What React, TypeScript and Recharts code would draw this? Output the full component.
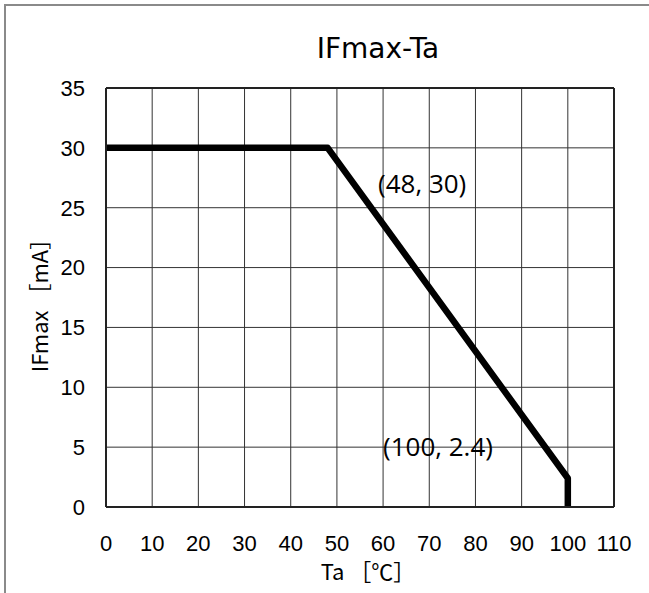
import React from 'react';
import { LineChart, Line, XAxis, YAxis, CartesianGrid, ReferenceLine } from 'recharts';

// derating curve points (Ta in °C, IFmax in mA)
const TA = [0, 48, 100, 100];
const IF_MAX = [30, 30, 2.4, 0];

const X_TICKS = [0, 10, 20, 30, 40, 50, 60, 70, 80, 90, 100, 110];
const Y_TICKS = [0, 5, 10, 15, 20, 25, 30, 35];

const data = TA.map((ta, i) => ({ ta, ifmax: IF_MAX[i] }));

const W = 649;
const H = 593;

const tickStyle = { fill: '#000', fontSize: 22, fontFamily: '"Liberation Sans", Arial, sans-serif' };
const noteFont = '"Open Sans", "Noto Sans", sans-serif';
const cjkFont = '"Noto Sans CJK JP", "Noto Sans", sans-serif';

const App: React.FC = () => {
  return (
    <div style={{ position: 'absolute', left: 0, top: 0, width: W, height: H, overflow: 'hidden', background: '#fff' }}>
      <div
        style={{
          position: 'absolute',
          left: 4,
          top: 4,
          width: 800,
          height: 800,
          borderLeft: '2px solid #8a8a8a',
          borderTop: '2px solid #8a8a8a',
        }}
      />
      <div
        style={{
          position: 'absolute',
          left: 378,
          top: 49,
          transform: 'translate(-50%, -50%)',
          fontFamily: '"DejaVu Sans", sans-serif',
          fontSize: 28,
          lineHeight: 1,
          whiteSpace: 'nowrap',
        }}
      >
        IFmax-Ta
      </div>

      <LineChart width={W} height={H} data={data} margin={{ top: 88, right: 35, left: 46, bottom: 36 }}>
        <CartesianGrid stroke="#333" strokeWidth={1} />
        <XAxis
          dataKey="ta"
          type="number"
          domain={[0, 110]}
          ticks={X_TICKS}
          interval={0}
          height={50}
          tickSize={0}
          tickMargin={28}
          tick={tickStyle}
          axisLine={{ stroke: '#222', strokeWidth: 2 }}
        />
        <YAxis
          type="number"
          domain={[0, 35]}
          ticks={Y_TICKS}
          interval={0}
          width={60}
          tickSize={0}
          tickMargin={21}
          tick={tickStyle}
          axisLine={{ stroke: '#222', strokeWidth: 2 }}
        />
        <ReferenceLine y={35} stroke="#222" strokeWidth={2} />
        <ReferenceLine x={110} stroke="#222" strokeWidth={2} />
        <Line
          dataKey="ifmax"
          type="linear"
          stroke="#000"
          strokeWidth={6.5}
          strokeLinejoin="round"
          dot={false}
          activeDot={false}
          isAnimationActive={false}
        />
      </LineChart>

      <div
        style={{
          position: 'absolute',
          left: 378,
          top: 183,
          transform: 'translateY(-50%)',
          fontFamily: noteFont,
          fontSize: 26,
          lineHeight: 1,
          whiteSpace: 'nowrap',
        }}
      >
        (48, 30)
      </div>
      <div
        style={{
          position: 'absolute',
          left: 383,
          top: 446,
          transform: 'translateY(-50%)',
          fontFamily: noteFont,
          fontSize: 26,
          lineHeight: 1,
          whiteSpace: 'nowrap',
        }}
      >
        (100, 2.4)
      </div>

      <div
        style={{
          position: 'absolute',
          left: 368,
          top: 570,
          transform: 'translate(-50%, -50%)',
          fontFamily: cjkFont,
          fontSize: 22,
          lineHeight: 1,
          whiteSpace: 'nowrap',
        }}
      >
        Ta ［℃］
      </div>
      <div
        style={{
          position: 'absolute',
          left: 38,
          top: 300,
          transform: 'translate(-50%, -50%) rotate(-90deg)',
          fontFamily: cjkFont,
          fontSize: 22,
          lineHeight: 1,
          whiteSpace: 'nowrap',
        }}
      >
        IFmax ［mA］
      </div>
    </div>
  );
};

export default App;
